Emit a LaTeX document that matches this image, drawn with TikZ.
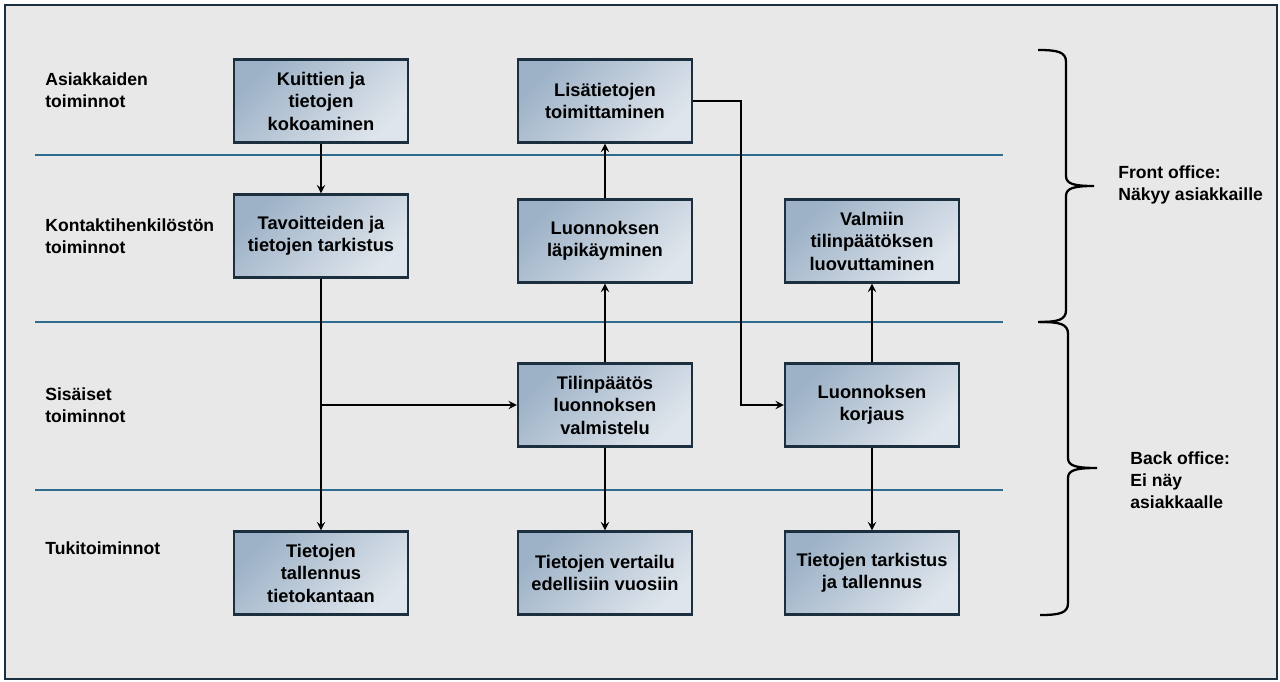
\documentclass[tikz,border=0pt]{standalone}
\usepackage{fontspec}
\setmainfont{Liberation Sans}
\usetikzlibrary{positioning}

\definecolor{bgray}{HTML}{E8E8E8}
\definecolor{frameline}{HTML}{1C2F3E}
\definecolor{laneblue}{HTML}{2F6A8F}
\definecolor{boxdark}{HTML}{9DB2C7}
\definecolor{boxlight}{HTML}{DFE5EC}

\begin{document}
\begin{tikzpicture}[x=0.02cm, y=-0.02cm,
    every node/.style={font=\fontsize{10}{12.6}\selectfont\bfseries},
    task/.style={draw=frameline, line width=1.3pt, top color=boxdark, bottom color=boxlight,
        shading angle=45, minimum width=3.48cm, minimum height=1.66cm, align=center, inner sep=2pt,
        font=\fontsize{10.4}{12.8}\selectfont\bfseries},
    lanelabel/.style={anchor=west, align=left, inner sep=0pt},
    arr/.style={->, >=stealth, line width=1.1pt}]
    \useasboundingbox (0,0) rectangle (1280,682);
    \draw[fill=bgray, draw=frameline, line width=1.5pt] (5,5) rectangle (1277,679);

    \draw[laneblue, line width=1pt] (35,155) -- (1003,155);
    \draw[laneblue, line width=1pt] (35,322) -- (1003,322);
    \draw[laneblue, line width=1pt] (35,490) -- (1003,490);

    \node[lanelabel] (l1) at (45,90) {Asiakkaiden\\toiminnot};
    \node[lanelabel] (l2) at (45,236) {Kontaktihenkilöstön\\toiminnot};
    \node[lanelabel] (l3) at (45,405) {Sisäiset\\toiminnot};
    \node[lanelabel] (l4) at (45,548) {Tukitoiminnot};

    \node[task] (kuitit) at (321,101) {Kuittien ja\\tietojen\\kokoaminen};
    \node[task] (lisatiedot) at (605,101) {Lisätietojen\\toimittaminen};
    \node[task] (tavoitteet) at (321,236) {Tavoitteiden ja\\tietojen tarkistus};
    \node[task] (lapikaynti) at (605,241) {Luonnoksen\\läpikäyminen};
    \node[task] (valmis) at (872,241) {Valmiin\\tilinpäätöksen\\luovuttaminen};
    \node[task] (tilinpaatos) at (605,405) {Tilinpäätös\\luonnoksen\\valmistelu};
    \node[task] (korjaus) at (872,405) {Luonnoksen\\korjaus};
    \node[task] (tallennus) at (321,573) {Tietojen\\tallennus\\tietokantaan};
    \node[task] (vertailu) at (605,573) {Tietojen vertailu\\edellisiin vuosiin};
    \node[task] (tarkistus) at (872,573) {Tietojen tarkistus\\ja tallennus};

    \coordinate (haara) at (tavoitteet |- tilinpaatos);

    \draw[arr] (kuitit) -- (tavoitteet);
    \draw[arr] (tavoitteet) -- (tallennus);
    \draw[arr] (haara) -- (tilinpaatos);
    \draw[arr] (tilinpaatos) -- (lapikaynti);
    \draw[arr] (lapikaynti) -- (lisatiedot);
    \draw[arr] (lisatiedot.east) -- ++(48,0) |- (korjaus.west);
    \draw[arr] (korjaus) -- (valmis);
    \draw[arr] (tilinpaatos) -- (vertailu);
    \draw[arr] (korjaus) -- (tarkistus);

    % braces
    \draw[line width=1.3pt] (1038,50) .. controls (1058,50) and (1066,52) .. (1066,62) -- (1066,176)
        .. controls (1066,184) and (1074,186) .. (1094,186)
        (1094,186) .. controls (1074,186) and (1066,188) .. (1066,196) -- (1066,310)
        .. controls (1066,320) and (1058,322) .. (1038,322);
    \draw[line width=1.3pt] (1040,322) .. controls (1060,322) and (1068,324) .. (1068,334) -- (1068,458)
        .. controls (1068,466) and (1076,468) .. (1097,468)
        (1097,468) .. controls (1076,468) and (1068,470) .. (1068,478) -- (1068,603)
        .. controls (1068,613) and (1060,615) .. (1040,615);

    \node[lanelabel] (front) at (1118,185) {Front office:\\Näkyy asiakkaille};
    \node[lanelabel] (back) at (1130,480) {Back office:\\Ei näy\\asiakkaalle};
\end{tikzpicture}
\end{document}
